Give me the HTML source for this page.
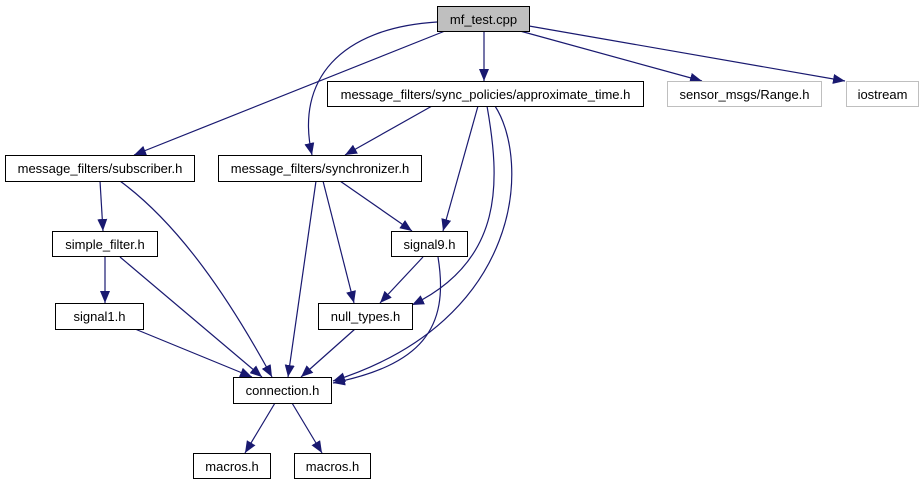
<!DOCTYPE html>
<html><head><meta charset="utf-8"><style>
html,body{margin:0;padding:0;background:#fff;}
svg{display:block;}
text{font-family:"Liberation Sans",Helvetica,sans-serif;font-size:13px;fill:#000;}
</style></head><body>
<svg width="921" height="485" viewBox="0 0 921 485" xmlns="http://www.w3.org/2000/svg">
<defs>
<marker id="a" markerWidth="12" markerHeight="10" refX="12" refY="5" orient="auto" markerUnits="userSpaceOnUse">
<path d="M0,0 L12,5 L0,10 z" fill="#191970"/>
</marker>
</defs>
<g fill="none" stroke="#191970" stroke-width="1.2" marker-end="url(#a)">
<path d="M445,31 L134,155"/>
<path d="M437,22 C340,28 295,80 312,155"/>
<path d="M484,31 L484,81"/>
<path d="M520,31 L702,81"/>
<path d="M529,26 L845,81"/>
<path d="M432,106 L345,155"/>
<path d="M478,106 L443,231"/>
<path d="M487,106 C500,180 505,260 412,305"/>
<path d="M495,106 C530,160 525,320 333,381"/>
<path d="M316,181 L288,377"/>
<path d="M323,181 L354,303"/>
<path d="M340,181 L412,231"/>
<path d="M100,181 L103,231"/>
<path d="M120,181 C180,225 230,300 272,377"/>
<path d="M105,257 L105,303"/>
<path d="M120,257 L262,377"/>
<path d="M135,329 L252,377"/>
<path d="M423,257 L380,303"/>
<path d="M438,257 C450,330 420,365 333,383"/>
<path d="M355,329 L301,377"/>
<path d="M275,403 L245,453"/>
<path d="M292,403 L322,453"/>
</g>
<g stroke-width="1">
<rect x="437.5" y="6.5" width="92" height="25" fill="#bfbfbf" stroke="#000"/>
<rect x="327.5" y="81.5" width="316" height="25" fill="#fff" stroke="#000"/>
<rect x="667.5" y="81.5" width="154" height="25" fill="#fff" stroke="#bfbfbf"/>
<rect x="846.5" y="81.5" width="72" height="25" fill="#fff" stroke="#bfbfbf"/>
<rect x="5.5" y="155.5" width="189" height="26" fill="#fff" stroke="#000"/>
<rect x="218.5" y="155.5" width="203" height="26" fill="#fff" stroke="#000"/>
<rect x="52.5" y="231.5" width="105" height="25" fill="#fff" stroke="#000"/>
<rect x="391.5" y="231.5" width="76" height="25" fill="#fff" stroke="#000"/>
<rect x="55.5" y="303.5" width="88" height="26" fill="#fff" stroke="#000"/>
<rect x="318.5" y="303.5" width="94" height="26" fill="#fff" stroke="#000"/>
<rect x="233.5" y="377.5" width="98" height="26" fill="#fff" stroke="#000"/>
<rect x="193.5" y="453.5" width="77" height="25" fill="#fff" stroke="#000"/>
<rect x="294.5" y="453.5" width="76" height="25" fill="#fff" stroke="#000"/>
</g>
<g text-anchor="middle">
<text x="483.5" y="24">mf_test.cpp</text>
<text x="485.5" y="99">message_filters/sync_policies/approximate_time.h</text>
<text x="744.5" y="99">sensor_msgs/Range.h</text>
<text x="882.5" y="99">iostream</text>
<text x="100" y="173">message_filters/subscriber.h</text>
<text x="320" y="173">message_filters/synchronizer.h</text>
<text x="105" y="249">simple_filter.h</text>
<text x="429.5" y="249">signal9.h</text>
<text x="99.5" y="321">signal1.h</text>
<text x="365.5" y="321">null_types.h</text>
<text x="282.5" y="395">connection.h</text>
<text x="232" y="471">macros.h</text>
<text x="332.5" y="471">macros.h</text>
</g>
</svg>
</body></html>
